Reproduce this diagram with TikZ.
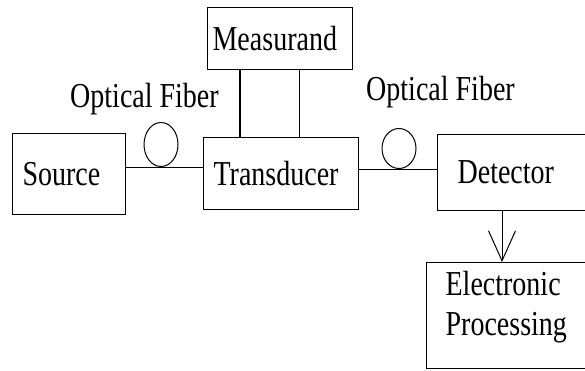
\documentclass[tikz,border=0pt]{standalone}
\usepackage{fontspec}
\setmainfont{Liberation Serif}[FakeStretch=0.8]
\usetikzlibrary{arrows.meta,shapes.geometric}

\tikzset{block/.style={draw, line width=1.2pt, anchor=north west, align=left},
  fiber/.style={draw, ellipse, line width=1pt, inner sep=0pt, anchor=south}}

\begin{document}
\begin{tikzpicture}[x=1pt, y=-1pt, line width=1.2pt, font=\fontsize{35}{40}\selectfont]
\clip (0,0) rectangle (585,370);
\node[block, minimum width=113pt, minimum height=81pt, inner xsep=10pt, text width=93pt] (source) at (12,133) {Source};
\node[block, minimum width=155pt, minimum height=72pt, inner xsep=10pt, text width=135pt] (transducer) at (203,137) {Transducer};
\node[block, minimum width=145pt, minimum height=62pt, inner xsep=5pt, text width=135pt] (measurand) at (207,7) {Measurand};
\node[block, minimum width=163pt, minimum height=76pt, inner xsep=20pt, text width=123pt] (detector) at (437,134) {Detector};
\node[block, minimum width=174pt, minimum height=106pt] (processing) at (426,262) {};
\node[anchor=north west, inner sep=0pt, align=left] (proctext) at (445,271) {Electronic\\Processing};
% fibre links
\draw ([yshift=6.5pt]source.east) -- ([yshift=6.5pt]source.east -| transducer.west);
\draw ([yshift=4pt]transducer.east) -- ([yshift=4pt]transducer.east -| detector.west);
\node[fiber, minimum width=34pt, minimum height=44pt] (loopA) at (161,167) {};
\node[fiber, minimum width=34pt, minimum height=40pt] (loopB) at (399,169) {};
\node[anchor=base] (fiberA) at (144.5,107) {Optical Fiber};
\node[anchor=base] (fiberB) at (440.5,100) {Optical Fiber};
\draw ([xshift=33pt]measurand.south west) -- ([xshift=33pt]measurand.south west |- transducer.north);
\draw ([xshift=-54pt]measurand.south east) -- ([xshift=-54pt]measurand.south east |- transducer.north);
\draw[-{Straight Barb[length=30pt,width=27pt]}, line width=1pt] ([xshift=65pt]detector.south west) -- ([xshift=65pt]detector.south west |- processing.north);
\end{tikzpicture}
\end{document}
